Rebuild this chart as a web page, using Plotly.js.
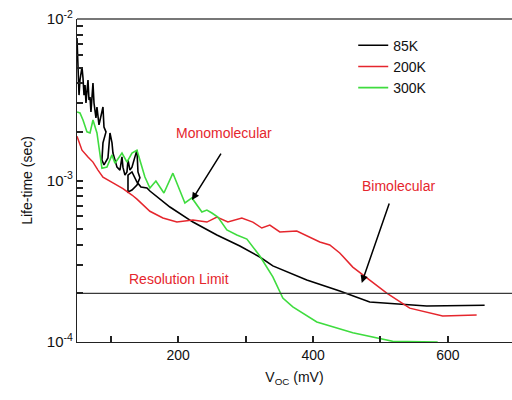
<!DOCTYPE html>
<html>
<head>
<meta charset="utf-8">
<script src="https://cdn.plot.ly/plotly-3.0.1.min.js"></script>
<style>html,body{margin:0;padding:0;background:#fff;}#chart{width:512px;height:400px;}</style>
</head>
<body>
<div id="chart"></div>
<script>
// 85K (black): noisy sweeps at low Voc, then smooth decay
const voc85 = [50, 51.5, 53, 54.4, 57.4, 58.9, 60.4, 61.9, 63.3, 66.3, 67.8, 69.3, 70.7, 73.7, 75.2, 78.1, 79.6, 82.6, 85.6, 88.5, 90, 93, 88.5, 87, 90, 95.9, 98.9, 101.9, 103.3, 106.3, 109.3, 113.7, 116.7, 118.1, 121.1, 124.1, 125.6, 128.5, 131.5, 135.9, 138.9, 140.4, 143.3, 138.9, 131.5, 125.6, 125.6, 131.5, 138.9, 144.8, 153.7, 158.1, 187.8, 221.9, 257.4, 291.5, 321.1, 340.4, 390.7, 439.6, 484, 568.5, 654.4];
const tau85 = [7.63e-3, 5.42e-3, 3.38e-3, 4.19e-3, 5.04e-3, 4.31e-3, 3.38e-3, 3.90e-3, 3.02e-3, 4.19e-3, 3.15e-3, 3.29e-3, 2.66e-3, 4.01e-3, 3.02e-3, 2.44e-3, 2.85e-3, 2.21e-3, 2.55e-3, 2.85e-3, 2.14e-3, 2.0e-3, 1.71e-3, 1.34e-3, 1.25e-3, 1.38e-3, 1.97e-3, 1.71e-3, 1.48e-3, 1.34e-3, 1.21e-3, 1.16e-3, 1.40e-3, 1.21e-3, 1.08e-3, 1.13e-3, 1.34e-3, 1.16e-3, 1.21e-3, 1.40e-3, 1.54e-3, 1.13e-3, 1.04e-3, 9.38e-4, 8.73e-4, 8.49e-4, 1.08e-3, 1.13e-3, 9.79e-4, 9.12e-4, 8.99e-4, 8.61e-4, 6.85e-4, 5.53e-4, 4.60e-4, 3.93e-4, 3.36e-4, 2.96e-4, 2.42e-4, 2.07e-4, 1.77e-4, 1.67e-4, 1.69e-4];

// 200K (red)
const voc200 = [50, 57.4, 66.3, 73.7, 81.1, 88.5, 103.3, 118.1, 131.5, 138.9, 158.1, 177.4, 198.1, 221.9, 242.6, 257.4, 273.7, 294.4, 310.7, 324, 335.9, 350.7, 375.9, 395.2, 410, 424.8, 439.6, 458.9, 484, 509.3, 543.3, 592.2, 642.6];
const tau200 = [1.88e-3, 1.54e-3, 1.40e-3, 1.30e-3, 1.16e-3, 1.05e-3, 9.66e-4, 8.9e-4, 8.13e-4, 7.67e-4, 6.45e-4, 5.86e-4, 5.53e-4, 5.69e-4, 5.53e-4, 5.94e-4, 5.53e-4, 5.86e-4, 5.53e-4, 5.08e-4, 5.30e-4, 4.80e-4, 4.87e-4, 4.47e-4, 4.16e-4, 3.99e-4, 3.56e-4, 2.91e-4, 2.42e-4, 2.01e-4, 1.62e-4, 1.45e-4, 1.47e-4];

// 300K (green)
const voc300 = [50, 54.4, 58.9, 64.8, 69.3, 73.7, 79.6, 84.1, 87, 94.4, 101.9, 106.3, 116.7, 124.1, 131.5, 138.9, 146.3, 150.7, 158.1, 167, 178.9, 192.2, 210, 220.4, 235.2, 242.6, 250, 258.9, 272.2, 287, 301.9, 321.1, 340.4, 355.2, 370, 405.6, 458.9, 518.1, 584.8];
const tau300 = [2.66e-3, 2.62e-3, 2.37e-3, 2.0e-3, 1.97e-3, 2.37e-3, 1.97e-3, 1.40e-3, 1.19e-3, 1.21e-3, 1.44e-3, 1.28e-3, 1.48e-3, 1.30e-3, 1.48e-3, 1.54e-3, 1.21e-3, 1.05e-3, 8.99e-4, 9.93e-4, 8.37e-4, 1.11e-3, 7.26e-4, 7.80e-4, 6.38e-4, 6.56e-4, 6.29e-4, 5.94e-4, 4.94e-4, 4.60e-4, 4.34e-4, 3.41e-4, 2.53e-4, 1.87e-4, 1.65e-4, 1.33e-4, 1.14e-4, 1.01e-4, 1.0e-4];

// Resolution limit
const resVoc = [50, 695];
const resTau = [2e-4, 2e-4];

// Y tick positions and labels (decades labelled, 2..9 unlabelled)
const yTickVals = [1e-4, 2e-4, 3e-4, 4e-4, 5e-4, 6e-4, 7e-4, 8e-4, 9e-4, 1e-3, 2e-3, 3e-3, 4e-3, 5e-3, 6e-3, 7e-3, 8e-3, 9e-3, 1e-2];
const yTickText = ['10<sup>-4</sup>', '', '', '', '', '', '', '', '', '10<sup>-3</sup>', '', '', '', '', '', '', '', '', '10<sup>-2</sup>'];

// X tick positions and labels
const xTickVals = [100, 200, 300, 400, 500, 600];
const xTickText = ['', '200', '', '400', '', '600'];

const FONT = 'Arial, "Liberation Sans", Helvetica, sans-serif';
const RED = '#e5262d';

const traces = [
  {x: voc85, y: tau85, name: '85K', mode: 'lines', line: {color: '#000000', width: 1.6}},
  {x: voc200, y: tau200, name: '200K', mode: 'lines', line: {color: RED, width: 1.5}},
  {x: voc300, y: tau300, name: '300K', mode: 'lines', line: {color: '#3fdc3f', width: 1.6}},
  {x: resVoc, y: resTau, name: 'Resolution Limit', mode: 'lines', showlegend: false, line: {color: '#3a3a3a', width: 1.4}}
];

const layout = {
  width: 512, height: 400,
  margin: {l: 77, r: 0, t: 19, b: 58},
  paper_bgcolor: '#ffffff', plot_bgcolor: '#ffffff',
  font: {family: FONT, size: 14, color: '#111'},
  showlegend: true,
  legend: {x: 0.635, y: 0.967, xanchor: 'left', yanchor: 'top', bgcolor: 'rgba(0,0,0,0)', font: {family: FONT, size: 14, color: '#111'}, tracegroupgap: 0},
  xaxis: {
    range: [50, 695], showgrid: false, zeroline: false,
    showline: true, linecolor: '#222', linewidth: 1.3,
    tickmode: 'array', tickvals: xTickVals, ticktext: xTickText,
    ticks: 'inside', ticklen: 6, tickwidth: 1.5, tickcolor: '#222',
    tickfont: {family: FONT, size: 14, color: '#111'},
    title: {text: 'V<sub>OC</sub> (mV)', font: {family: FONT, size: 14, color: '#111'}, standoff: 10}
  },
  yaxis: {
    type: 'log', range: [-4, -2], showgrid: false, zeroline: false,
    showline: true, linecolor: '#222', linewidth: 1.3,
    tickmode: 'array', tickvals: yTickVals, ticktext: yTickText,
    ticks: 'inside', ticklen: 6, tickwidth: 1.5, tickcolor: '#222',
    tickfont: {family: FONT, size: 15, color: '#111'},
    title: {text: 'Life-time (sec)', font: {family: FONT, size: 14, color: '#111'}, standoff: 10}
  },
  shapes: [
    {type: 'line', xref: 'paper', yref: 'paper', x0: 0, x1: 1, y0: 1, y1: 1, line: {color: '#777', width: 2}}
  ],
  annotations: [
    {x: 267.8, y: -2.706, xref: 'x', yref: 'y', text: 'Monomolecular', showarrow: false, font: {family: FONT, size: 14, color: RED}},
    {x: 220.4, y: -3.121, xref: 'x', yref: 'y', text: '', showarrow: true, ax: 30, ay: -48, arrowhead: 2, arrowsize: 1, arrowwidth: 1.5, arrowcolor: '#000'},
    {x: 527, y: -3.034, xref: 'x', yref: 'y', text: 'Bimolecular', showarrow: false, font: {family: FONT, size: 14, color: RED}},
    {x: 472.2, y: -3.634, xref: 'x', yref: 'y', text: '', showarrow: true, ax: 28, ay: -81, arrowhead: 2, arrowsize: 1, arrowwidth: 1.5, arrowcolor: '#000'},
    {x: 201.1, y: -3.609, xref: 'x', yref: 'y', text: 'Resolution Limit', showarrow: false, font: {family: FONT, size: 14, color: RED}}
  ]
};

Plotly.newPlot('chart', traces, layout, {displayModeBar: false});
</script>
</body>
</html>
